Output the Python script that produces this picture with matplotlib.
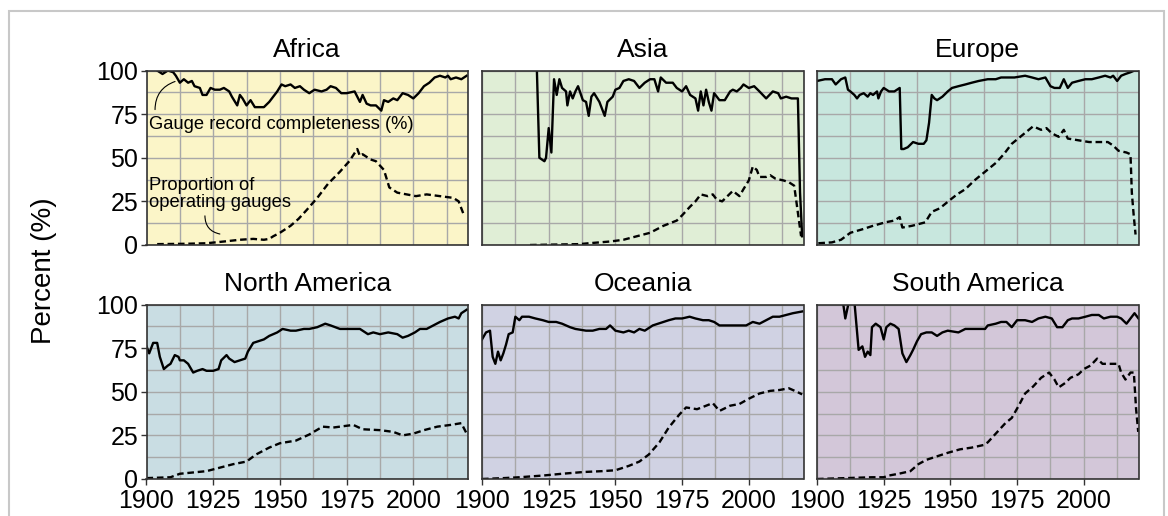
import matplotlib
matplotlib.use("Agg")
import matplotlib.pyplot as plt
from matplotlib.patches import Rectangle
from matplotlib.ticker import MultipleLocator

plt.rcParams['font.family'] = ['Liberation Sans', 'DejaVu Sans']

# ---- data ----
regions = ['Africa', 'Asia', 'Europe', 'North America', 'Oceania', 'South America']
bg_colors = ['#fbf5c8', '#e0eed6', '#c8e7de', '#c9dde3', '#d0d2e3', '#d3c7d9']

africa_c_years = [1904, 1906, 1908, 1910, 1911, 1912.5, 1914, 1915.6, 1917, 1918, 1920, 1921, 1922.5, 1924, 1925.6,
                  1927.5, 1929, 1931, 1932, 1934, 1935, 1936, 1937.5, 1939, 1940.6, 1942, 1944, 1946, 1947.5, 1949,
                  1950.6, 1952, 1954, 1955.6, 1957.5, 1959, 1961, 1963, 1965.6, 1967.5, 1969, 1971, 1973, 1975, 1978,
                  1980, 1981, 1982.5, 1984, 1986, 1988, 1989, 1990.6, 1992.5, 1994, 1996, 1998, 2000, 2002, 2004,
                  2006, 2008, 2010, 2012, 2013, 2014, 2016, 2018, 2020]
africa_c = [100, 98, 100, 99, 97, 93, 95, 93, 94, 91, 90, 86, 86, 90, 89,
            89, 90, 88, 85, 80, 86, 84, 80, 83, 79, 79, 79, 82, 85, 88,
            92, 91, 92, 90, 91, 89, 87, 89, 88, 89, 91, 90, 87, 87, 88,
            82, 86, 81, 80, 80, 77, 83, 82, 84, 83, 87, 86, 84, 87, 91,
            93, 96, 97, 96, 97, 95, 96, 95, 97]
africa_p_years = [1904, 1915, 1922.5, 1929, 1935, 1940, 1944, 1946, 1947.5, 1950, 1954, 1957, 1960, 1964, 1968,
                  1972.5, 1976, 1979, 1980, 1981, 1984, 1986, 1989, 1991, 1994, 1997.5, 2001, 2005, 2010, 2015,
                  2017, 2019]
africa_p = [0.5, 0.7, 1, 2, 3, 3.5, 3, 3.5, 5, 7, 11, 15, 20, 27, 35,
            42, 48, 55, 51, 52, 49, 48, 43, 33, 30, 29, 28, 29, 28, 27,
            25, 17]

asia_c_years = [1920.5, 1921.5, 1923.4, 1924, 1925, 1926, 1927, 1928, 1929, 1930, 1931.5, 1932, 1933, 1934, 1935,
                1936, 1937.8, 1939, 1940, 1941, 1942, 1944, 1945, 1946, 1947, 1949, 1950, 1951.5, 1953, 1955,
                1957, 1959, 1961, 1963, 1964.6, 1966, 1967, 1969, 1971.5, 1973, 1975, 1976.5, 1978, 1980, 1981,
                1982, 1983, 1984, 1985, 1986, 1987, 1989, 1991, 1993, 1994, 1995.5, 1997, 1998, 2000, 2002,
                2004, 2006.5, 2009, 2011, 2012, 2014, 2016, 2018.4, 2019.2, 2020]
asia_c = [104, 50, 48, 50, 67, 53, 95, 86, 95, 90, 88, 80, 88, 84, 88,
          91, 83, 82, 74, 85, 87, 82, 78, 74, 82, 85, 89, 90, 94, 95,
          94, 90, 93, 95, 95, 88, 96, 93, 93, 90, 88, 91, 86, 84, 77,
          88, 80, 89, 82, 77, 87, 83, 83, 88, 89, 88, 90, 92, 90, 91,
          88, 84, 88, 87, 84, 85, 84, 84, 30, 5]
asia_p_years = [1918, 1936.5, 1940, 1948, 1953, 1958, 1963, 1968, 1973, 1975, 1978, 1980, 1982, 1984.6, 1986.5,
                1988, 1990, 1992, 1994, 1996.5, 1998, 2000, 2001.5, 2003, 2004, 2006.5, 2008, 2010, 2013, 2015,
                2017, 2018, 2019.6]
asia_p = [0, 0.5, 1, 2, 3, 5, 7, 11, 14, 17, 22, 25, 29, 28, 29,
          26, 25, 28, 31, 28, 32, 37, 45, 43, 39, 39, 40, 38, 37, 36,
          34, 23, 5]

europe_c_years = [1900, 1903, 1905.6, 1907, 1909, 1910.6, 1911.6, 1912.5, 1914, 1915, 1916, 1917.5, 1919, 1920,
                  1921, 1922.5, 1923, 1924, 1925, 1927, 1929, 1931, 1931.6, 1932.5, 1934, 1936, 1938, 1940, 1941,
                  1942, 1943, 1944, 1945, 1947, 1949, 1950.6, 1953, 1955.6, 1958, 1960.6, 1964, 1967, 1969, 1972,
                  1974, 1978, 1980.6, 1983, 1985.6, 1987.5, 1989, 1991, 1992.5, 1994, 1995.6, 1998, 2000.6, 2003,
                  2005.6, 2008, 2010, 2011, 2012.5, 2014, 2015.6, 2017.5, 2019, 2020.5]
europe_c = [94, 95, 95, 92, 95, 96, 89, 88, 86, 84, 86, 87, 85, 87,
            86, 88, 84, 88, 90, 88, 88, 90, 55, 55, 56, 59, 58, 58, 60,
            70, 86, 84, 83, 85, 88, 90, 91, 92, 93, 94, 95, 95, 96, 96,
            96, 97, 96, 95, 96, 91, 90, 90, 95, 90, 93, 94, 95, 95,
            96, 97, 96, 97, 94, 97, 98, 99, 100, 100]
europe_p_years = [1900.5, 1905.6, 1909, 1912.5, 1917, 1921, 1925.6, 1929, 1931, 1932, 1935.6, 1940.6, 1943, 1946,
                  1950, 1952.5, 1955.6, 1959, 1963, 1967, 1970, 1973, 1977, 1981, 1984, 1986, 1988, 1990.6, 1992.5,
                  1994, 1998, 2002, 2005.6, 2009, 2011, 2013, 2016, 2017.5, 2018, 2018.7, 2019.4]
europe_p = [1, 1.5, 3, 7, 9, 11, 13, 14, 16, 10, 11, 13, 19, 21,
            26, 29, 32, 37, 42, 47, 52, 58, 63, 68, 66, 67, 64, 62, 66,
            61, 60, 59, 59, 59, 57, 54, 53, 52, 30, 17, 6]

namerica_c_years = [1900, 1901, 1902.5, 1904, 1905, 1906.5, 1908, 1909, 1910.6, 1912, 1912.5, 1914, 1915.6, 1917.5,
                    1919, 1921, 1922.5, 1925, 1927, 1928, 1930, 1931, 1933, 1935, 1937, 1938, 1940, 1942, 1944,
                    1946, 1949, 1951, 1954, 1956, 1959, 1961, 1964, 1967, 1969, 1972.5, 1975, 1977.5, 1980, 1983,
                    1985, 1987.5, 1990.6, 1994, 1996, 1998, 2000.6, 2002.5, 2005, 2007.5, 2010, 2013, 2015.6, 2017,
                    2018, 2020]
namerica_c = [76, 72, 78, 78, 70, 63, 65, 66, 71, 70, 68, 68, 66, 61,
              62, 63, 62, 62, 63, 68, 71, 69, 67, 68, 69, 73, 78, 79, 80,
              82, 84, 86, 85, 85, 86, 86, 87, 89, 88, 86, 86, 86, 86, 83,
              84, 83, 84, 83, 81, 82, 84, 86, 86, 88, 90, 92, 93, 92,
              95, 97]
namerica_p_years = [1900, 1909, 1912.5, 1922.5, 1927.5, 1932.5, 1937.5, 1941, 1946, 1950, 1956, 1961, 1966, 1970,
                    1975, 1977.5, 1981, 1987.5, 1992.5, 1996, 2000, 2004, 2009, 2014, 2018, 2020]
namerica_p = [0.5, 1, 3, 4.5, 6.5, 8.5, 10, 14, 18, 20.5, 22, 25.5, 30, 29.5,
              30.5, 31, 28.5, 28, 27, 25, 26, 28, 30, 31, 32, 26]

oceania_c_years = [1900, 1901.5, 1903, 1904, 1905, 1906, 1907, 1908, 1909, 1910, 1911.5, 1912.5, 1914, 1915,
                   1917.6, 1920, 1922.8, 1925, 1927.8, 1930, 1933, 1935, 1939, 1941.5, 1944, 1946.5, 1948, 1950,
                   1953, 1955, 1957, 1959, 1961, 1964, 1966, 1968, 1970, 1972.5, 1975, 1977.8, 1980, 1982.8, 1985,
                   1987, 1989, 1991.5, 1995, 1999, 2001.5, 2004, 2006.5, 2009, 2011.5, 2014, 2016.5, 2020]
oceania_c = [80, 84, 85, 70, 66, 73, 68, 72, 77, 83, 84, 93, 91, 93,
             93, 92, 91, 90, 90, 89, 87, 86, 85, 85, 86, 86, 88, 85,
             84, 85, 84, 86, 85, 88, 89, 90, 91, 92, 92, 93, 92, 91, 91,
             90, 88, 88, 88, 88, 90, 89, 91, 93, 93, 94, 95, 96]
oceania_p_years = [1900, 1908, 1914, 1923, 1930, 1938, 1945, 1950, 1955, 1959, 1962.5, 1966.5, 1970, 1974, 1976.5,
                   1980.6, 1984, 1986.5, 1989, 1993, 1996.5, 2000, 2004, 2008, 2011.5, 2015, 2018, 2020]
oceania_p = [0, 0.5, 1, 2, 3, 4, 4.5, 5, 7.5, 10, 14, 21, 29.5, 37, 41,
             40, 42, 43.5, 39, 42, 43, 46, 49, 50.5, 51, 52, 50, 48.5]

samerica_c_years = [1909.5, 1910.6, 1912, 1914, 1915.6, 1917, 1918, 1919, 1920, 1920.6, 1922, 1923.8, 1925, 1926,
                    1927.5, 1929, 1930.6, 1932, 1933.5, 1935, 1936, 1937.5, 1939, 1941, 1943, 1945, 1947, 1949,
                    1953, 1955.6, 1959, 1963, 1964, 1967, 1969, 1971, 1973, 1975, 1978, 1980.6, 1983, 1985.6, 1988,
                    1990, 1992, 1994, 1995.6, 1998, 2000.6, 2003, 2005.6, 2007.5, 2010, 2012.5, 2014, 2016, 2018,
                    2019, 2020.5]
samerica_c = [104, 92, 102, 102, 74, 76, 70, 73, 71, 87, 89, 87, 80, 87,
              89, 88, 86, 72, 67, 71, 74, 79, 83, 84, 84, 82, 84, 85,
              84, 86, 86, 86, 88, 89, 90, 90, 87, 91, 91, 90, 92, 93, 92,
              87, 87, 91, 92, 92, 93, 94, 94, 92, 93, 93, 92, 89, 93,
              95, 92]
samerica_p_years = [1900, 1910.6, 1920.6, 1925, 1927, 1930.6, 1935, 1938, 1941, 1945, 1949, 1953.6, 1958, 1962.5,
                    1964, 1967, 1970.6, 1973, 1975.6, 1978, 1981, 1984, 1987, 1988, 1989, 1990.6, 1993, 1995, 1998,
                    2000, 2002.5, 2005, 2007, 2009.5, 2011, 2013, 2014, 2015.6, 2017.5, 2018.75, 2019.6, 2020.4]
samerica_p = [0, 0.5, 1, 1, 2, 3, 4.5, 8.5, 11, 13, 15, 17, 18, 19.5,
              21, 26, 32, 35, 42, 49, 53, 58, 61, 59, 57, 52.5, 55, 58, 60,
              63, 65, 69, 66, 66, 66, 66, 61, 57, 61, 61, 40, 27]

completeness = [(africa_c_years, africa_c), (asia_c_years, asia_c), (europe_c_years, europe_c),
                (namerica_c_years, namerica_c), (oceania_c_years, oceania_c), (samerica_c_years, samerica_c)]
proportion = [(africa_p_years, africa_p), (asia_p_years, asia_p), (europe_p_years, europe_p),
              (namerica_p_years, namerica_p), (oceania_p_years, oceania_p), (samerica_p_years, samerica_p)]

fig = plt.figure(figsize=(11.68, 5.16), dpi=100)

# light frame around the whole figure
fig.patches.append(Rectangle((9 / 1168, -0.05), 1155 / 1168, 1.05 - 11 / 516, transform=fig.transFigure,
                             fill=False, edgecolor='#c8c8c8', linewidth=1.5))

lefts = [146.5, 482, 817]
bottoms = [245, 479]
w = 321.5
h = 174.5

for i, name in enumerate(regions):
    row, col = divmod(i, 3)
    ax = fig.add_axes([lefts[col] / 1168, (516 - bottoms[row]) / 516, w / 1168, h / 516])
    ax.set_facecolor(bg_colors[i])
    ax.set_xlim(1900, 2020.5)
    ax.set_ylim(0, 100)
    ax.xaxis.set_major_locator(MultipleLocator(25))
    ax.xaxis.set_minor_locator(MultipleLocator(12.5))
    ax.yaxis.set_major_locator(MultipleLocator(25))
    ax.yaxis.set_minor_locator(MultipleLocator(12.5))
    ax.grid(True, which='both', color='#a8a8a8', linewidth=1.0)
    ax.set_axisbelow(True)
    for s in ax.spines.values():
        s.set_color('#333333')
        s.set_linewidth(1.2)

    cy, cv = completeness[i]
    py, pv = proportion[i]
    ax.plot(cy, cv, color='black', linewidth=1.7, solid_joinstyle='round')
    ax.plot(py, pv, color='black', linewidth=1.7, linestyle=(0, (2.8, 1.6)))

    ax.set_title(name, fontsize=19, pad=9.5)

    ax.tick_params(which='minor', length=0)
    if row == 1:
        ax.tick_params(axis='x', which='major', labelsize=18, length=4, width=1, pad=3, color='#333333')
        ax.set_xticks([1900, 1925, 1950, 1975, 2000])
    else:
        ax.tick_params(axis='x', which='major', length=0, labelbottom=False)
    if col == 0:
        ax.tick_params(axis='y', which='major', labelsize=18, length=4, width=1, pad=2, color='#333333')
    else:
        ax.tick_params(axis='y', which='major', length=0, labelleft=False)

    if name == 'Africa':
        ax.text(1900.8, 69, 'Gauge record completeness (%)', fontsize=13.2, va='center', ha='left')
        ax.text(1900.8, 29.5, 'Proportion of\noperating gauges', fontsize=13.2, va='center', ha='left',
                linespacing=1.0)
        ax.annotate('', xy=(1910.7, 93.7), xytext=(1903.2, 77.6),
                    arrowprops=dict(arrowstyle='-', connectionstyle='arc3,rad=-0.35', color='black',
                                    lw=0.8, shrinkA=0, shrinkB=0))
        ax.annotate('', xy=(1927.5, 6.3), xytext=(1921.9, 16.7),
                    arrowprops=dict(arrowstyle='-', connectionstyle='arc3,rad=0.4', color='black',
                                    lw=0.8, shrinkA=0, shrinkB=0))

fig.text(44 / 1168, 1 - 271 / 516, 'Percent (%)', rotation=90, fontsize=20, ha='center', va='center')

plt.savefig('out.png', dpi=100)
